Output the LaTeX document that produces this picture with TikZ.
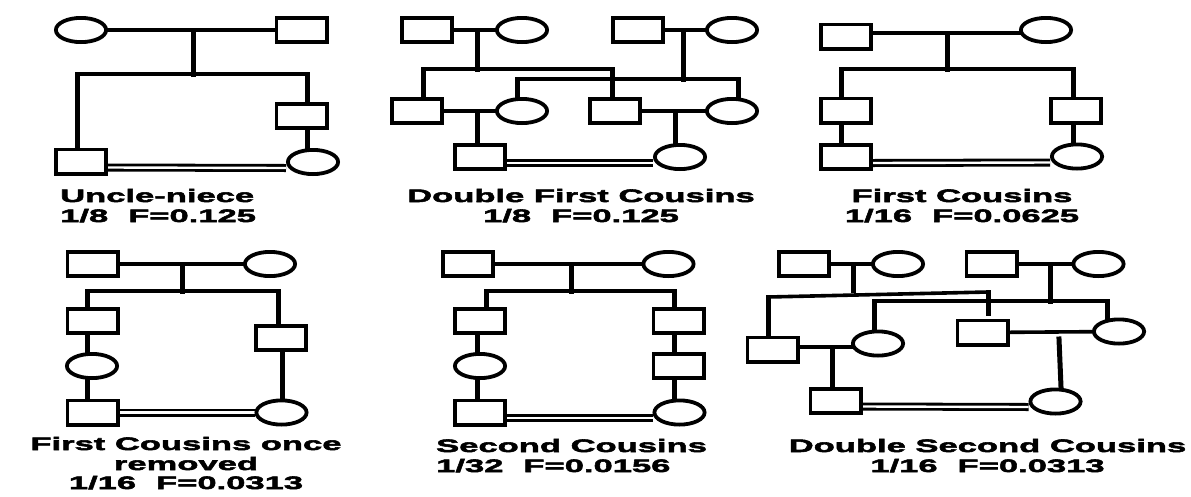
\documentclass[tikz,border=0pt]{standalone}
\usepackage{fontspec}
\newfontfamily\labfont{Liberation Sans}[FakeStretch=1.92, FakeBold=3]
\usetikzlibrary{shapes.geometric}
\pgfdeclarelayer{bg}
\pgfsetlayers{bg,main}
\newcommand{\gapF}{\hspace{20pt}}
\tikzset{
  person/.style={draw, line width=3.8pt, fill=white, minimum width=50.2pt, minimum height=24.2pt, inner sep=0pt},
  sq/.style={person, rectangle},
  ci/.style={person, ellipse},
  hl/.style={line width=3.6pt, line cap=rect},
  vl/.style={line width=5pt, line cap=rect},
  dbl/.style={double, double distance=2.4pt, line width=2.8pt},
  lab/.style={font=\labfont\bfseries\fontsize{18pt}{20pt}\selectfont, inner sep=0pt}
}
\begin{document}
\begin{tikzpicture}[x=1pt, y=-1pt]
\useasboundingbox (0,0) rectangle (1191,496);

% ---------- Panel 1: Uncle-niece ----------
\node[ci] (p1a) at (81,30) {};
\node[sq] (p1b) at (301.5,30) {};
\node[sq] (p1c) at (301.5,116) {};
\node[sq] (p1d) at (81,161.5) {};
\node[ci] (p1e) at (313,162) {};
\coordinate (p1m) at (193,30);
\coordinate (p1s) at (193,74);
\coordinate (p1sl) at (77,74);
\coordinate (p1sr) at (307,74);
\begin{pgfonlayer}{bg}
\draw[hl] (p1a) -- (p1b);
\draw[vl] (p1m) -- (p1s);
\draw[hl] (p1sl) -- (p1sr);
\draw[vl] (p1sl) -- (p1sl |- p1d.north);
\draw[vl] (p1sr) -- (p1sr |- p1c.north);
\draw[vl] (p1sr |- p1c.south) -- (p1sr |- p1e.north);
\draw[dbl] ([yshift=-6pt]p1d.east) -- ([yshift=-6pt]p1e.west);
\end{pgfonlayer}
\node[lab, anchor=base west] (t1a) at (60,202) {Uncle-niece};
\node[lab, anchor=base west] (t1b) at (60,222) {1/8\gapF F=0.125};

% ---------- Panel 2: Double First Cousins ----------
\node[sq] (q1) at (427,30) {};
\node[ci] (q2) at (522,30) {};
\node[sq] (q3) at (638,30) {};
\node[ci] (q4) at (732,30) {};
\node[sq] (q5) at (417,111) {};
\node[ci] (q6) at (522,111) {};
\node[sq] (q7) at (615,111) {};
\node[ci] (q8) at (732,111) {};
\node[sq] (q9) at (480,157) {};
\node[ci] (q10) at (680,157) {};
\coordinate (q1m) at (477,30);
\coordinate (q1s) at (477,69);
\coordinate (q2m) at (683,30);
\coordinate (q2s) at (683,79);
\coordinate (qal) at (423,69);
\coordinate (qar) at (612,69);
\coordinate (qbl) at (517,79);
\coordinate (qbr) at (738,79);
\coordinate (q3m) at (477,111);
\coordinate (q4m) at (675,111);
\begin{pgfonlayer}{bg}
\draw[hl] (q1) -- (q2);
\draw[hl] (q3) -- (q4);
\draw[hl] (q5) -- (q6);
\draw[hl] (q7) -- (q8);
\draw[vl] (q1m) -- (q1s);
\draw[vl] (q2m) -- (q2s);
\draw[hl] (qal) -- (qar);
\draw[hl] (qbl) -- (qbr);
\draw[vl] (qal) -- (qal |- q5.north);
\draw[vl] (qar) -- (qar |- q7.north);
\draw[vl] (qbl) -- (qbl |- q6.north);
\draw[vl] (qbr) -- (qbr |- q8.north);
\draw[vl] (q3m) -- (q3m |- q9.north);
\draw[vl] (q4m) -- (q4m |- q10.north);
\draw[dbl] ([yshift=-6pt]q9.east) -- ([yshift=-6pt]q10.west);
\end{pgfonlayer}
\node[lab, anchor=base] (t2a) at (581,202) {Double First Cousins};
\node[lab, anchor=base] (t2b) at (581,222) {1/8\gapF F=0.125};

% ---------- Panel 3: First Cousins ----------
\node[sq] (r1) at (846,36.5) {};
\node[ci] (r2) at (1046,30) {};
\node[sq] (r3) at (846,110.5) {};
\node[sq] (r4) at (1076,110.5) {};
\node[sq] (r5) at (846,157) {};
\node[ci] (r6) at (1077,156.5) {};
\coordinate (r1m) at (947,33);
\coordinate (r1s) at (947,69);
\coordinate (rsl) at (841,69);
\coordinate (rsr) at (1073,69);
\begin{pgfonlayer}{bg}
\draw[hl] ([yshift=3.5pt]r1.east) -- ([yshift=-3pt]r2.west);
\draw[vl] (r1m) -- (r1s);
\draw[hl] (rsl) -- (rsr);
\draw[vl] (rsl) -- (rsl |- r3.north);
\draw[vl] (rsl |- r3.south) -- (rsl |- r5.north);
\draw[vl] (rsr) -- (rsr |- r4.north);
\draw[vl] (rsr |- r4.south) -- (rsr |- r6.north);
\draw[dbl] ([yshift=-6pt]r5.east) -- ([yshift=-6pt]r6.west);
\end{pgfonlayer}
\node[lab, anchor=base] (t3a) at (962,202) {First Cousins};
\node[lab, anchor=base] (t3b) at (962,222) {1/16\gapF F=0.0625};

% ---------- Panel 4: First Cousins once removed ----------
\node[sq] (s1) at (92.5,264) {};
\node[ci] (s2) at (270,264) {};
\node[sq] (s3) at (92.5,321) {};
\node[ci] (s4) at (92,366) {};
\node[sq] (s5) at (92.5,412.5) {};
\node[sq] (s6) at (281,338) {};
\node[ci] (s7) at (281.5,412.5) {};
\coordinate (s1m) at (182,264);
\coordinate (s1s) at (182,291);
\coordinate (ssl) at (87,291);
\coordinate (ssr) at (278,291);
\coordinate (ssr2) at (282,352);
\begin{pgfonlayer}{bg}
\draw[hl] (s1) -- (s2);
\draw[vl] (s1m) -- (s1s);
\draw[hl] (ssl) -- (ssr);
\draw[vl] (ssl) -- (ssl |- s3.north);
\draw[vl] (ssl |- s3.south) -- (ssl |- s4.north);
\draw[vl] (ssl |- s4.south) -- (ssl |- s5.north);
\draw[vl] (ssr) -- (ssr |- s6.north);
\draw[vl] (ssr2 |- s6.south) -- (ssr2 |- s7.north);
\draw[dbl] (s5.east) -- (s7.west);
\end{pgfonlayer}
\node[lab, anchor=base] (t4a) at (186,450) {First Cousins once};
\node[lab, anchor=base] (t4b) at (186,470) {removed};
\node[lab, anchor=base] (t4c) at (186,489) {1/16\gapF F=0.0313};

% ---------- Panel 5: Second Cousins ----------
\node[sq] (u1) at (468,264) {};
\node[ci] (u2) at (668.5,264) {};
\node[sq] (u3) at (480,321) {};
\node[ci] (u4) at (480,366) {};
\node[sq] (u5) at (480,412.5) {};
\node[sq] (u6) at (678.5,321) {};
\node[sq] (u7) at (678.5,366) {};
\node[ci] (u8) at (679.5,412.5) {};
\coordinate (u1m) at (571,264);
\coordinate (u1s) at (571,291);
\coordinate (usl) at (486,291);
\coordinate (usr) at (674,291);
\coordinate (usl2) at (477,335);
\begin{pgfonlayer}{bg}
\draw[hl] (u1) -- (u2);
\draw[vl] (u1m) -- (u1s);
\draw[hl] (usl) -- (usr);
\draw[vl] (usl) -- (usl |- u3.north);
\draw[vl] (usl2 |- u3.south) -- (usl2 |- u4.north);
\draw[vl] (usl2 |- u4.south) -- (usl2 |- u5.north);
\draw[vl] (usr) -- (usr |- u6.north);
\draw[vl] (usr |- u6.south) -- (usr |- u7.north);
\draw[vl] (usr |- u7.south) -- (usr |- u8.north);
\draw[dbl] ([yshift=-5.5pt]u5.east) -- ([yshift=-5.5pt]u8.west);
\end{pgfonlayer}
\node[lab, anchor=base west] (t5a) at (436,452) {Second Cousins};
\node[lab, anchor=base west] (t5b) at (436,472) {1/32\gapF F=0.0156};

% ---------- Panel 6: Double Second Cousins ----------
\node[sq] (v1) at (804,264) {};
\node[ci] (v2) at (898,264) {};
\node[sq] (v3) at (991.5,264) {};
\node[ci] (v4) at (1098.5,264) {};
\node[sq] (v5) at (772.5,349.5) {};
\node[ci] (v6) at (878,343.5) {};
\node[sq] (v7) at (982.5,332.5) {};
\node[ci] (v8) at (1119,331.5) {};
\node[sq] (v9) at (835.5,401) {};
\node[ci] (v10) at (1055.5,401.5) {};
\coordinate (v1m) at (853,264);
\coordinate (v1s) at (853,290);
\coordinate (v2m) at (1050,264);
\coordinate (v2s) at (1050,301);
\coordinate (val) at (768,297);
\coordinate (var) at (988,292);
\coordinate (vae) at (988,313);
\coordinate (vbl) at (874,301);
\coordinate (vbr) at (1107,301);
\coordinate (v3m) at (832,347);
\coordinate (v4m) at (1059,339);
\coordinate (v4e) at (1061,387);
\begin{pgfonlayer}{bg}
\draw[hl] (v1) -- (v2);
\draw[hl] (v3) -- (v4);
\draw[hl] ([yshift=2.5pt]v5.east) -- ([yshift=-3.5pt]v6.west);
\draw[hl] (v7) -- (v8);
\draw[vl] (v1m) -- (v1s);
\draw[vl] (v2m) -- (v2s);
\draw[hl] (val) -- (var);
\draw[vl] (var) -- (vae);
\draw[hl] (vbl) -- (vbr);
\draw[vl] (val) -- (val |- v5.north);
\draw[vl] (vbl) -- (vbl |- v6.north);
\draw[vl] (vbr) -- (vbr |- v8.north);
\draw[vl] (v3m) -- (v3m |- v9.north);
\draw[vl] (v4m) -- (v4e);
\draw[dbl] ([yshift=-5.5pt]v9.east) -- ([yshift=-5.5pt]v10.west);
\end{pgfonlayer}
\node[lab, anchor=base] (t6a) at (987.5,452) {Double Second Cousins};
\node[lab, anchor=base] (t6b) at (987.5,472) {1/16\gapF F=0.0313};
\end{tikzpicture}
\end{document}
